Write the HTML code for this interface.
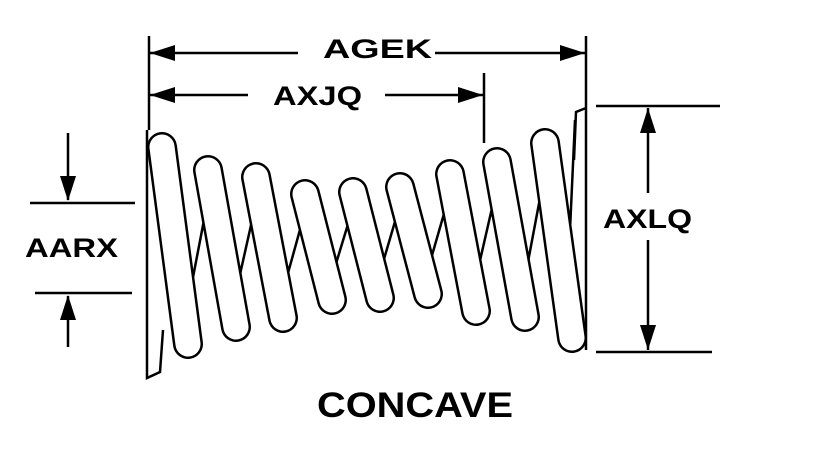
<!DOCTYPE html>
<html><head><style>body{margin:0;background:#fff}svg{display:block}</style></head><body>
<svg width="838" height="460" viewBox="0 0 838 460" xmlns="http://www.w3.org/2000/svg" font-family="Liberation Sans, sans-serif" font-weight="bold">
<g stroke="#000" stroke-width="2.5" fill="none">
<line x1="149" y1="36" x2="149" y2="130"/>
<line x1="586" y1="36" x2="586" y2="106"/>
<line x1="484" y1="73" x2="484" y2="143"/>
<line x1="150" y1="53" x2="298" y2="53"/>
<line x1="435" y1="53" x2="585" y2="53"/>
<line x1="150" y1="95" x2="248" y2="95"/>
<line x1="385" y1="95" x2="483" y2="95"/>
<line x1="596" y1="106" x2="720" y2="106"/>
<line x1="596" y1="352" x2="712" y2="352"/>
<line x1="648" y1="108" x2="648" y2="193"/>
<line x1="648" y1="240" x2="648" y2="350"/>
<line x1="30" y1="203" x2="135" y2="203"/>
<line x1="35" y1="293" x2="132" y2="293"/>
<line x1="68" y1="133" x2="68" y2="200"/>
<line x1="68" y1="296" x2="68" y2="347"/>
<path d="M180 345 L214 168 M228 328 L262 176 M275 320 L311 190 M324 303 L359 188 M372 300 L406 184 M420 297 L456 172 M468 313 L503 160 M517 320 L551 140 M565 340 L575 120"/>
<path d="M147 130 V378 L160 372 L163 330"/>
<path d="M586 106 V350 M586 108 L576 112 L574 160"/>
</g>
<g fill="#000">
<polygon points="150,53 175,45 175,61"/>
<polygon points="585,53 560,45 560,61"/>
<polygon points="150,95 175,87 175,103"/>
<polygon points="483,95 458,87 458,103"/>
<polygon points="648,108 640,133 656,133"/>
<polygon points="648,350 640,325 656,325"/>
<polygon points="68,201 60,176 76,176"/>
<polygon points="68,295 60,320 76,320"/>
</g>
<g stroke-linecap="round" fill="none" stroke="#000" stroke-width="30">
<line x1="162" y1="147" x2="188" y2="344"/>
<line x1="208" y1="170" x2="236" y2="327"/>
<line x1="256" y1="177" x2="283" y2="318"/>
<line x1="305" y1="194" x2="332" y2="300"/>
<line x1="353" y1="192" x2="380" y2="298"/>
<line x1="400" y1="187" x2="428" y2="294"/>
<line x1="450" y1="174" x2="476" y2="311"/>
<line x1="497" y1="162" x2="525" y2="317"/>
<line x1="545" y1="143" x2="572" y2="338"/>
</g>
<g stroke-linecap="round" fill="none" stroke="#fff" stroke-width="25">
<line x1="162" y1="147" x2="188" y2="344"/>
<line x1="208" y1="170" x2="236" y2="327"/>
<line x1="256" y1="177" x2="283" y2="318"/>
<line x1="305" y1="194" x2="332" y2="300"/>
<line x1="353" y1="192" x2="380" y2="298"/>
<line x1="400" y1="187" x2="428" y2="294"/>
<line x1="450" y1="174" x2="476" y2="311"/>
<line x1="497" y1="162" x2="525" y2="317"/>
<line x1="545" y1="143" x2="572" y2="338"/>
</g>
<g font-size="27" fill="#000" lengthAdjust="spacingAndGlyphs">
<text x="323" y="58" textLength="109" lengthAdjust="spacingAndGlyphs">AGEK</text>
<text x="273" y="105" textLength="89" lengthAdjust="spacingAndGlyphs">AXJQ</text>
<text x="603" y="228" textLength="89" lengthAdjust="spacingAndGlyphs">AXLQ</text>
<text x="25" y="257" textLength="93" lengthAdjust="spacingAndGlyphs">AARX</text>
<text x="317" y="417" font-size="35" textLength="196" lengthAdjust="spacingAndGlyphs">CONCAVE</text>
</g>
</svg>
</body></html>
